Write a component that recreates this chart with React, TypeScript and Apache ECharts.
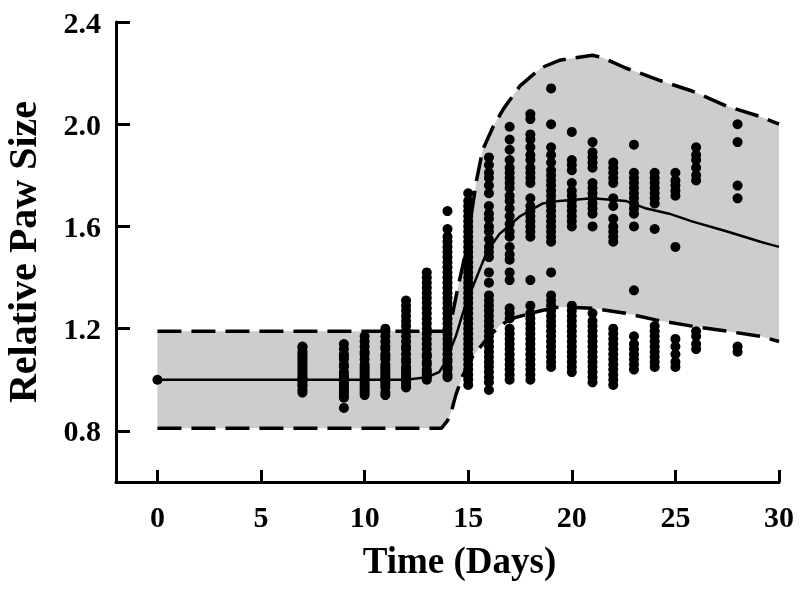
import React, { useEffect, useRef } from "react";
import * as echarts from "echarts";

// Model curves (day, relative paw size)
const medianDays = [0, 12, 13, 13.6, 13.9, 14.2, 14.4, 14.7, 14.9, 15.4, 15.9, 16.5, 17.5, 18.6, 19.4, 21, 22.6, 23.6, 24.7, 25.8, 27.5, 29.1, 30];
const medianVals = [1.0, 1.0, 1.01, 1.03, 1.07, 1.13, 1.17, 1.25, 1.3, 1.4, 1.5, 1.57, 1.64, 1.69, 1.7, 1.71, 1.7, 1.67, 1.65, 1.62, 1.58, 1.54, 1.52];

const upperDays = [0, 13.9, 14.2, 14.5, 14.8, 15.1, 15.4, 15.7, 16.2, 16.7, 17.5, 18.5, 19.4, 21, 21.5, 22.6, 24.3, 25.8, 27.5, 29.1, 30];
const upperVals = [1.19, 1.19, 1.24, 1.36, 1.47, 1.62, 1.78, 1.9, 1.99, 2.06, 2.15, 2.22, 2.25, 2.27, 2.26, 2.22, 2.17, 2.13, 2.07, 2.03, 2.0];

const lowerDays = [0, 13.7, 14.0, 14.2, 14.4, 14.7, 15.2, 15.9, 16.5, 17.1, 18.5, 19.4, 21, 22.6, 24.3, 25.8, 27.5, 29.1, 30];
const lowerVals = [0.81, 0.81, 0.84, 0.88, 0.94, 1.01, 1.09, 1.16, 1.21, 1.24, 1.27, 1.285, 1.28, 1.26, 1.23, 1.21, 1.19, 1.17, 1.15];

// Observed measurements per day
const obsDays = [0, 7, 9, 10, 11, 12, 13, 14, 15, 16, 17, 18, 19, 20, 21, 22, 23, 24, 25, 26, 28];
const obsValues: number[][] = [
  [1.0],
  [0.95, 0.96, 0.975, 0.98, 0.99, 1.0, 1.005, 1.01, 1.02, 1.03, 1.04, 1.05, 1.06, 1.07, 1.08, 1.09, 1.1, 1.11, 1.125, 1.13],
  [0.89, 0.93, 0.94, 0.95, 0.96, 0.97, 0.98, 0.99, 1.0, 1.01, 1.02, 1.03, 1.05, 1.06, 1.08, 1.09, 1.1, 1.12, 1.14],
  [0.94, 0.95, 0.96, 0.97, 0.98, 0.99, 1.0, 1.01, 1.02, 1.03, 1.04, 1.05, 1.06, 1.08, 1.1, 1.11, 1.13, 1.15, 1.17],
  [0.94, 0.95, 0.97, 0.98, 0.99, 1.0, 1.01, 1.02, 1.03, 1.04, 1.05, 1.06, 1.08, 1.09, 1.1, 1.12, 1.13, 1.15, 1.17, 1.19, 1.2],
  [0.97, 0.98, 0.99, 1.0, 1.01, 1.02, 1.03, 1.04, 1.05, 1.07, 1.08, 1.1, 1.12, 1.13, 1.15, 1.17, 1.19, 1.21, 1.23, 1.25, 1.27, 1.29, 1.31],
  [1.0, 1.01, 1.02, 1.03, 1.04, 1.06, 1.07, 1.09, 1.1, 1.12, 1.14, 1.16, 1.18, 1.2, 1.22, 1.24, 1.26, 1.28, 1.3, 1.32, 1.34, 1.36, 1.38, 1.4, 1.42],
  [1.01, 1.02, 1.04, 1.05, 1.07, 1.08, 1.1, 1.12, 1.14, 1.16, 1.18, 1.2, 1.22, 1.24, 1.26, 1.28, 1.3, 1.32, 1.34, 1.36, 1.38, 1.4, 1.42, 1.44, 1.46, 1.48, 1.5, 1.52, 1.54, 1.56, 1.59, 1.66],
  [0.98, 1.0, 1.02, 1.04, 1.06, 1.08, 1.1, 1.12, 1.14, 1.16, 1.18, 1.2, 1.22, 1.24, 1.26, 1.28, 1.3, 1.32, 1.34, 1.36, 1.38, 1.4, 1.42, 1.44, 1.46, 1.48, 1.5, 1.52, 1.54, 1.56, 1.58, 1.6, 1.62, 1.64, 1.66, 1.68, 1.7, 1.73],
  [0.96, 0.99, 1.01, 1.03, 1.05, 1.07, 1.09, 1.11, 1.13, 1.15, 1.17, 1.19, 1.21, 1.23, 1.25, 1.27, 1.29, 1.31, 1.33, 1.38, 1.42, 1.48, 1.5, 1.52, 1.55, 1.58, 1.6, 1.63, 1.65, 1.68, 1.73, 1.76, 1.79, 1.81, 1.84, 1.87],
  [1.0, 1.02, 1.04, 1.06, 1.08, 1.1, 1.12, 1.14, 1.16, 1.18, 1.2, 1.24, 1.26, 1.28, 1.39, 1.42, 1.47, 1.49, 1.52, 1.56, 1.58, 1.61, 1.64, 1.67, 1.7, 1.72, 1.75, 1.77, 1.79, 1.81, 1.83, 1.86, 1.9, 1.94, 1.99],
  [1.0, 1.02, 1.04, 1.06, 1.08, 1.1, 1.12, 1.14, 1.16, 1.18, 1.2, 1.22, 1.24, 1.26, 1.29, 1.39, 1.56, 1.58, 1.6, 1.62, 1.64, 1.66, 1.68, 1.71, 1.77, 1.79, 1.81, 1.83, 1.86, 1.88, 1.91, 1.94, 1.96, 2.02, 2.04],
  [1.05, 1.07, 1.09, 1.11, 1.13, 1.15, 1.17, 1.19, 1.21, 1.23, 1.25, 1.27, 1.29, 1.31, 1.33, 1.42, 1.54, 1.56, 1.58, 1.6, 1.62, 1.64, 1.66, 1.68, 1.7, 1.72, 1.74, 1.76, 1.78, 1.8, 1.82, 1.85, 1.88, 1.91, 2.0, 2.14],
  [1.03, 1.05, 1.07, 1.09, 1.11, 1.13, 1.15, 1.17, 1.19, 1.21, 1.23, 1.25, 1.27, 1.29, 1.6, 1.62, 1.64, 1.66, 1.68, 1.7, 1.72, 1.74, 1.77, 1.82, 1.84, 1.86, 1.97],
  [0.99, 1.01, 1.03, 1.05, 1.07, 1.09, 1.11, 1.13, 1.15, 1.17, 1.19, 1.21, 1.23, 1.26, 1.6, 1.65, 1.67, 1.69, 1.71, 1.73, 1.75, 1.77, 1.83, 1.85, 1.87, 1.89, 1.93],
  [0.98, 1.0, 1.02, 1.04, 1.06, 1.08, 1.1, 1.12, 1.14, 1.16, 1.18, 1.2, 1.54, 1.56, 1.58, 1.6, 1.63, 1.68, 1.71, 1.77, 1.79, 1.81, 1.83, 1.85],
  [1.04, 1.06, 1.08, 1.1, 1.12, 1.14, 1.17, 1.35, 1.6, 1.65, 1.67, 1.69, 1.71, 1.73, 1.75, 1.77, 1.79, 1.81, 1.92],
  [1.05, 1.07, 1.09, 1.11, 1.13, 1.15, 1.17, 1.19, 1.21, 1.59, 1.69, 1.71, 1.73, 1.75, 1.77, 1.79, 1.81],
  [1.05, 1.07, 1.1, 1.13, 1.16, 1.52, 1.72, 1.74, 1.76, 1.78, 1.81],
  [1.12, 1.14, 1.17, 1.19, 1.78, 1.8, 1.83, 1.86, 1.88, 1.91],
  [1.11, 1.13, 1.71, 1.76, 1.93, 2.0],
];

const xTicks = [0, 5, 10, 15, 20, 25, 30];
const yTicks = [0.8, 1.2, 1.6, 2.0, 2.4];

const FONT = "'Liberation Serif', 'Times New Roman', serif";

export default function App() {
  const ref = useRef<HTMLDivElement>(null);

  useEffect(() => {
    if (!ref.current) return;
    const chart = echarts.init(ref.current, null, { renderer: "svg" });

    const pairs = (xs: number[], ys: number[]) => xs.map((x, i) => [x, ys[i]]);
    const upperPts = pairs(upperDays, upperVals);
    const lowerPts = pairs(lowerDays, lowerVals);
    const medianPts = pairs(medianDays, medianVals);
    const scatterPts: number[][] = [];
    obsDays.forEach((d, i) => obsValues[i].forEach((v) => scatterPts.push([d, v])));

    chart.setOption({
      animation: false,
      grid: { left: 116, right: 21, top: 22, bottom: 107, outerBoundsMode: "none", containLabel: false },
      xAxis: {
        type: "value",
        min: -2,
        max: 30,
        name: "Time (Days)",
        nameLocation: "middle",
        nameGap: 60,
        nameTextStyle: { fontFamily: FONT, fontWeight: "bold", fontSize: 37, color: "#000", padding: [0, 0, 0, 24] },
        axisLine: { show: true, onZero: false, lineStyle: { color: "#000", width: 3 } },
        axisTick: { show: true, inside: true, length: 12, lineStyle: { color: "#000", width: 3 }, customValues: xTicks },
        axisLabel: { fontFamily: FONT, fontWeight: "bold", fontSize: 30, color: "#000", margin: 19, customValues: xTicks },
        splitLine: { show: false },
      },
      yAxis: {
        type: "value",
        min: 0.6,
        max: 2.4,
        name: "Relative Paw Size",
        nameLocation: "middle",
        nameGap: 74,
        nameTextStyle: { fontFamily: FONT, fontWeight: "bold", fontSize: 40, color: "#000" },
        axisLine: { show: true, onZero: false, lineStyle: { color: "#000", width: 3 } },
        axisTick: { show: true, inside: true, length: 14, lineStyle: { color: "#000", width: 3 }, customValues: yTicks },
        axisLabel: {
          fontFamily: FONT,
          fontWeight: "bold",
          fontSize: 30,
          color: "#000",
          margin: 15,
          customValues: yTicks,
          formatter: (v: number) => v.toFixed(1),
        },
        splitLine: { show: false },
      },
      series: [
        {
          type: "custom",
          z: 1,
          silent: true,
          data: [[0, 1]],
          renderItem: (_params: any, api: any) => {
            const pts = upperPts.map((p) => api.coord(p)).concat(
              lowerPts.slice().reverse().map((p) => api.coord(p))
            );
            return { type: "polygon", shape: { points: pts }, style: { fill: "#cdcdcd" } };
          },
        },
        {
          type: "scatter",
          z: 2,
          data: scatterPts,
          symbol: "circle",
          symbolSize: 10,
          itemStyle: { color: "#000", opacity: 1 },
        },
        {
          type: "line",
          z: 3,
          data: medianPts,
          showSymbol: false,
          lineStyle: { color: "#000", width: 2.5 },
        },
        {
          type: "line",
          z: 3,
          data: upperPts,
          showSymbol: false,
          lineStyle: { color: "#000", width: 3.5, type: [24, 10] },
        },
        {
          type: "line",
          z: 3,
          data: lowerPts,
          showSymbol: false,
          lineStyle: { color: "#000", width: 3.5, type: [24, 10] },
        },
      ],
    });

    return () => chart.dispose();
  }, []);

  return <div ref={ref} style={{ position: "fixed", left: 0, top: 0, width: 800, height: 589 }} />;
}
